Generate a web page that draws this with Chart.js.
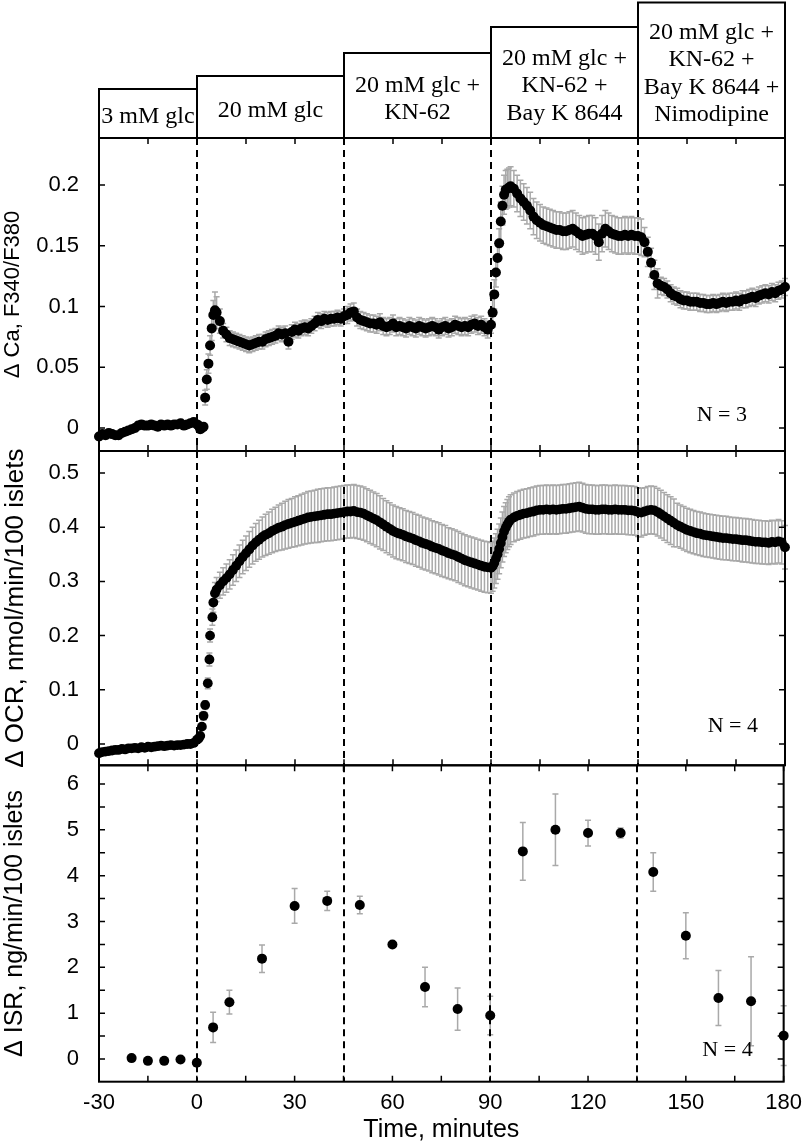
<!DOCTYPE html>
<html>
<head>
<meta charset="utf-8">
<script src="https://cdn.jsdelivr.net/npm/chart.js@4.4.1/dist/chart.umd.min.js"></script>
<style>
  body { margin: 0; background: #fff; }
  #wrap { position: relative; width: 802px; height: 1143px; }
  canvas { position: absolute; left: 0; }
</style>
</head>
<body>
<div id="wrap">
  <canvas id="ca" width="802" height="490" style="top:0px"></canvas>
  <canvas id="ocr" width="802" height="370" style="top:420px"></canvas>
  <canvas id="isr" width="802" height="408" style="top:735px"></canvas>
</div>
<script>
// condicoes experimentais (faixas do topo)
const stageStart = [-30, 0, 45, 90, 135];
const stageEnd = [0, 45, 90, 135, 180];
const stageLabels = [
  ['3 mM glc'],
  ['20 mM glc'],
  ['20 mM glc +', 'KN-62'],
  ['20 mM glc +', 'KN-62 +', 'Bay K 8644'],
  ['20 mM glc +', 'KN-62 +', 'Bay K 8644 +', 'Nimodipine']
];

// eixos
const xTicks = [-30, -15, 0, 15, 30, 45, 60, 75, 90, 105, 120, 135, 150, 165, 180];
const xLabels = ['-30', '', '0', '', '30', '', '60', '', '90', '', '120', '', '150', '', '180'];
const caTicks = [0, 0.05, 0.1, 0.15, 0.2];
const caLabels = ['0', '0.05', '0.1', '0.15', '0.2'];
const ocrTicks = [0, 0.1, 0.2, 0.3, 0.4, 0.5];
const ocrLabels = ['0', '0.1', '0.2', '0.3', '0.4', '0.5'];
const isrTicks = [0, 0.5, 1, 1.5, 2, 2.5, 3, 3.5, 4, 4.5, 5, 5.5, 6];
const isrLabels = ['0', '', '1', '', '2', '', '3', '', '4', '', '5', '', '6'];

// Ca (F340/F380)
const caTime = [
  -30,-29,-28,-27,-26,-25,-24,-23,-22,-21,-20,-19,-18,-17,-16,-15,-14,-13,-12,-11,
  -10,-9,-8,-7,-6,-5,-4,-3,-2,-1,0,
  0.5,1,1.5,2,2.5,3,3.5,4,4.5,5,5.5,6,
  7,8,9,10,11,12,13,14,15,16,17,18,19,20,21,22,23,24,25,26,27,28,29,30,
  31,32,33,34,35,36,37,38,39,40,41,42,43,44,45,46,47,48,49,50,51,52,53,54,
  55,56,57,58,59,60,61,62,63,64,65,66,67,68,69,70,71,72,73,74,75,76,77,78,
  79,80,81,82,83,84,85,86,87,88,89,90,
  90.5,91,91.5,92,92.5,93,93.5,94,94.5,95,95.5,96,
  97,98,99,100,101,102,103,104,105,106,107,108,109,110,111,112,113,114,115,116,
  117,118,119,120,121,122,123,124,125,126,127,128,129,130,131,132,133,134,135,136,
  137,138,139,140,141,142,143,144,145,146,147,148,149,150,151,152,153,154,155,156,
  157,158,159,160,161,162,163,164,165,166,167,168,169,170,171,172,173,174,175,176,
  177,178,179,180
];
const caMean = [
  -0.007,-0.005,-0.006,-0.004,-0.005,-0.006,-0.006,-0.004,-0.003,-0.002,
  -0.001,0.000,0.002,0.003,0.002,0.002,0.003,0.002,0.001,0.003,
  0.002,0.003,0.002,0.003,0.003,0.004,0.002,0.003,0.004,0.005,0.003,
  0.002,-0.001,0.000,0.001,0.025,0.040,0.053,0.068,0.082,0.093,0.097,0.095,
  0.088,0.080,0.077,0.074,0.073,0.072,0.071,0.070,0.069,0.068,
  0.069,0.070,0.071,0.071,0.073,0.074,0.075,0.076,0.078,0.077,
  0.078,0.071,0.079,0.081,0.080,0.082,0.083,0.082,0.084,0.086,
  0.089,0.088,0.090,0.089,0.090,0.090,0.091,0.090,0.092,0.093,
  0.095,0.096,0.091,0.089,0.088,0.087,0.086,0.086,0.085,0.087,
  0.084,0.083,0.084,0.086,0.083,0.084,0.083,0.082,0.084,0.083,
  0.082,0.084,0.083,0.082,0.083,0.084,0.083,0.081,0.083,0.084,
  0.082,0.083,0.085,0.084,0.083,0.084,0.083,0.085,0.086,0.084,
  0.085,0.083,0.081,0.085,
  0.095,0.110,0.128,0.140,0.152,0.170,0.183,0.192,0.196,0.197,0.198,0.199,
  0.197,0.193,0.189,0.186,0.183,0.179,0.174,0.171,0.169,0.167,
  0.166,0.165,0.164,0.163,0.163,0.162,0.162,0.163,0.164,0.162,
  0.160,0.158,0.159,0.160,0.160,0.158,0.153,0.160,0.164,0.162,
  0.160,0.159,0.158,0.158,0.159,0.158,0.159,0.158,0.158,0.157,
  0.153,0.145,0.136,0.126,0.119,0.117,0.116,0.114,0.111,0.109,
  0.108,0.106,0.105,0.105,0.104,0.104,0.104,0.103,0.103,0.102,
  0.102,0.103,0.102,0.103,0.104,0.103,0.104,0.104,0.105,0.104,
  0.106,0.106,0.107,0.108,0.107,0.109,0.110,0.111,0.110,0.112,
  0.111,0.113,0.114,0.116
];
const caErr = [
  0.003,0.003,0.003,0.003,0.003,0.003,0.003,0.003,0.003,0.003,
  0.003,0.003,0.003,0.003,0.003,0.003,0.003,0.003,0.003,0.003,
  0.003,0.003,0.003,0.003,0.003,0.003,0.003,0.003,0.003,0.003,0.003,
  0.003,0.003,0.003,0.003,0.006,0.008,0.008,0.008,0.010,0.012,0.015,0.013,
  0.010,0.006,0.006,0.006,0.006,0.006,0.006,0.006,0.006,0.006,
  0.006,0.006,0.006,0.006,0.006,0.006,0.006,0.006,0.006,0.006,
  0.006,0.006,0.006,0.006,0.006,0.006,0.006,0.006,0.006,0.006,
  0.006,0.006,0.006,0.006,0.006,0.006,0.006,0.006,0.006,0.007,
  0.007,0.007,0.007,0.007,0.007,0.007,0.007,0.007,0.007,0.007,
  0.007,0.007,0.007,0.007,0.007,0.007,0.007,0.007,0.007,0.007,
  0.007,0.007,0.007,0.007,0.007,0.007,0.007,0.007,0.007,0.007,
  0.007,0.007,0.007,0.007,0.007,0.007,0.007,0.007,0.007,0.007,
  0.007,0.007,0.007,0.007,
  0.012,0.012,0.012,0.012,0.012,0.016,0.016,0.016,0.016,0.016,0.016,0.016,
  0.015,0.015,0.015,0.015,0.015,0.015,0.015,0.015,0.015,0.015,
  0.015,0.015,0.015,0.015,0.015,0.015,0.015,0.015,0.015,0.015,
  0.015,0.015,0.015,0.015,0.015,0.015,0.015,0.015,0.015,0.015,
  0.015,0.015,0.015,0.015,0.015,0.015,0.015,0.015,0.015,0.015,
  0.012,0.012,0.012,0.012,0.012,0.007,0.007,0.007,0.007,0.007,
  0.007,0.007,0.007,0.007,0.007,0.007,0.007,0.007,0.007,0.007,
  0.007,0.007,0.007,0.007,0.007,0.007,0.007,0.007,0.007,0.007,
  0.007,0.007,0.007,0.007,0.007,0.007,0.007,0.007,0.007,0.007,
  0.007,0.007,0.007,0.007
];

// OCR (nmol/min/100 ilhotas)
const ocrTime = [
  -30,-29,-28,-27,-26,-25,-24,-23,-22,-21,-20,-19,-18,-17,-16,-15,-14,-13,-12,-11,
  -10,-9,-8,-7,-6,-5,-4,-3,-2,-1,0,
  0.5,1,1.5,2,2.5,3.3,3.8,4,4.7,5,5.5,6,
  7,8,9,10,11,12,13,14,15,16,17,18,19,20,21,22,23,24,25,26,27,28,29,30,
  31,32,33,34,35,36,37,38,39,40,41,42,43,44,45,46,47,48,49,50,51,52,53,54,
  55,56,57,58,59,60,61,62,63,64,65,66,67,68,69,70,71,72,73,74,75,76,77,78,
  79,80,81,82,83,84,85,86,87,88,89,90,
  90.5,91,91.5,92,92.5,93,93.5,94,94.5,95,95.5,96,
  97,98,99,100,101,102,103,104,105,106,107,108,109,110,111,112,113,114,115,116,
  117,118,119,120,121,122,123,124,125,126,127,128,129,130,131,132,133,134,135,136,
  137,138,139,140,141,142,143,144,145,146,147,148,149,150,151,152,153,154,155,156,
  157,158,159,160,161,162,163,164,165,166,167,168,169,170,171,172,173,174,175,176,
  177,178,179,180
];
const ocrMean = [
  -0.017,-0.015,-0.014,-0.013,-0.012,-0.011,-0.011,-0.009,-0.010,-0.008,
  -0.008,-0.007,-0.008,-0.006,-0.007,-0.005,-0.006,-0.005,-0.004,-0.003,
  -0.004,-0.003,-0.002,-0.003,-0.002,-0.002,-0.001,0.000,0.000,0.002,0.008,
  0.010,0.015,0.032,0.052,0.072,0.112,0.156,0.200,0.234,0.261,0.278,0.285,
  0.293,0.300,0.306,0.313,0.321,0.329,0.337,0.345,0.352,0.359,
  0.366,0.372,0.377,0.382,0.386,0.389,0.393,0.396,0.399,0.401,
  0.404,0.406,0.408,0.410,0.412,0.414,0.416,0.418,0.419,0.420,
  0.421,0.422,0.423,0.424,0.424,0.425,0.426,0.427,0.428,0.429,
  0.429,0.430,0.428,0.427,0.425,0.422,0.419,0.416,0.413,0.409,
  0.405,0.401,0.397,0.393,0.390,0.388,0.386,0.383,0.381,0.379,
  0.376,0.374,0.371,0.369,0.367,0.364,0.362,0.360,0.357,0.355,
  0.352,0.350,0.348,0.345,0.342,0.339,0.337,0.335,0.333,0.331,
  0.329,0.327,0.326,0.325,
  0.328,0.334,0.342,0.350,0.360,0.371,0.382,0.392,0.399,0.405,0.410,0.414,
  0.418,0.421,0.423,0.425,0.426,0.428,0.429,0.431,0.432,0.432,
  0.433,0.432,0.433,0.432,0.433,0.434,0.434,0.435,0.436,0.437,
  0.438,0.436,0.434,0.433,0.433,0.432,0.432,0.433,0.433,0.432,
  0.432,0.433,0.432,0.432,0.432,0.431,0.431,0.430,0.428,0.427,
  0.429,0.431,0.432,0.431,0.428,0.424,0.420,0.416,0.412,0.408,
  0.404,0.401,0.398,0.395,0.393,0.391,0.389,0.388,0.386,0.385,
  0.384,0.383,0.382,0.381,0.380,0.380,0.379,0.378,0.378,0.377,
  0.376,0.376,0.375,0.374,0.373,0.373,0.372,0.372,0.371,0.373,
  0.372,0.374,0.372,0.363
];
const ocrErr = [
  0.004,0.004,0.004,0.004,0.004,0.004,0.004,0.004,0.004,0.004,
  0.004,0.004,0.004,0.004,0.004,0.004,0.004,0.004,0.004,0.004,
  0.004,0.004,0.004,0.004,0.004,0.004,0.004,0.004,0.004,0.004,0.004,
  0.006,0.006,0.006,0.008,0.008,0.010,0.012,0.012,0.015,0.018,0.020,0.022,
  0.024,0.025,0.026,0.027,0.028,0.029,0.030,0.031,0.032,0.033,
  0.034,0.035,0.036,0.037,0.038,0.039,0.040,0.041,0.042,0.043,
  0.044,0.045,0.045,0.046,0.046,0.047,0.047,0.048,0.048,0.048,
  0.049,0.049,0.049,0.049,0.049,0.049,0.049,0.049,0.049,0.049,
  0.049,0.049,0.049,0.049,0.049,0.049,0.049,0.049,0.049,0.049,
  0.048,0.048,0.048,0.048,0.048,0.048,0.048,0.048,0.048,0.048,
  0.048,0.048,0.048,0.048,0.048,0.048,0.048,0.048,0.048,0.048,
  0.047,0.047,0.047,0.047,0.047,0.047,0.047,0.047,0.047,0.047,
  0.047,0.047,0.047,0.047,
  0.046,0.046,0.046,0.046,0.046,0.046,0.046,0.046,0.046,0.046,0.046,0.046,
  0.045,0.045,0.045,0.045,0.045,0.045,0.045,0.045,0.045,0.045,
  0.045,0.045,0.045,0.045,0.045,0.045,0.045,0.045,0.045,0.045,
  0.045,0.045,0.045,0.045,0.045,0.045,0.045,0.045,0.045,0.045,
  0.045,0.045,0.045,0.045,0.045,0.045,0.045,0.045,0.045,0.045,
  0.044,0.044,0.044,0.044,0.044,0.044,0.044,0.044,0.044,0.044,
  0.040,0.040,0.040,0.040,0.040,0.040,0.040,0.040,0.040,0.040,
  0.040,0.040,0.040,0.040,0.040,0.040,0.040,0.040,0.040,0.040,
  0.040,0.040,0.040,0.040,0.040,0.040,0.040,0.040,0.040,0.040,
  0.040,0.040,0.040,0.040
];

// ISR (ng/min/100 ilhotas)
const isrTime = [-20, -15, -10, -5, 0, 5, 10, 20, 30, 40, 50, 60, 70, 80, 90, 100, 110, 120, 130, 140, 150, 160, 170, 180];
const isrMean = [0.02, -0.04, -0.04, -0.01, -0.08, 0.69, 1.24, 2.19, 3.34, 3.45, 3.36, 2.50, 1.57, 1.09, 0.95, 4.53, 5.00, 4.93, 4.93, 4.08, 2.69, 1.33, 1.26, 0.51];
const isrErr = [0, 0, 0, 0, 0, 0.33, 0.26, 0.30, 0.38, 0.21, 0.19, 0.04, 0.43, 0.46, 0.42, 0.63, 0.78, 0.28, 0.11, 0.42, 0.50, 0.60, 0.97, 0.65];

const SANS = 'Liberation Sans';
const SERIF = 'Liberation Serif';

// desenha moldura, ticks, barras de erro, linhas tracejadas e caixas do topo
const painel = {
  id: 'painel',
  beforeDatasetsDraw(chart, args, opts) {
    const ctx = chart.ctx;
    const a = chart.chartArea;
    const x = chart.scales.x, y = chart.scales.y;
    ctx.save();
    // barras de erro
    ctx.strokeStyle = '#a9a9a9';
    ctx.lineWidth = 1.5;
    chart.data.datasets.forEach(function(ds) {
      ds.data.forEach(function(p, i) {
        const e = ds.errors[i];
        if (!e) return;
        const px = x.getPixelForValue(p.x);
        const y1 = y.getPixelForValue(p.y - e);
        const y2 = y.getPixelForValue(p.y + e);
        ctx.beginPath();
        ctx.moveTo(px, y1); ctx.lineTo(px, y2);
        ctx.moveTo(px - 3, y1); ctx.lineTo(px + 3, y1);
        ctx.moveTo(px - 3, y2); ctx.lineTo(px + 3, y2);
        ctx.stroke();
      });
    });
    // linhas tracejadas nas trocas de condicao
    ctx.strokeStyle = '#000';
    ctx.lineWidth = 2;
    ctx.setLineDash([7, 5]);
    stageStart.slice(1).forEach(function(t) {
      const px = Math.round(x.getPixelForValue(t));
      ctx.beginPath();
      ctx.moveTo(px, a.top);
      ctx.lineTo(px, a.bottom);
      ctx.stroke();
    });
    ctx.restore();
  },
  afterDraw(chart, args, opts) {
    const ctx = chart.ctx;
    const a = chart.chartArea;
    const x = chart.scales.x, y = chart.scales.y;
    ctx.save();
    ctx.strokeStyle = '#000';
    ctx.lineWidth = 2;
    ctx.strokeRect(a.left, a.top, a.right - a.left, a.bottom - a.top);
    // ticks para dentro
    ctx.lineWidth = 1.5;
    ctx.beginPath();
    xTicks.forEach(function(v) {
      const px = x.getPixelForValue(v);
      ctx.moveTo(px, a.top); ctx.lineTo(px, a.top + 6);
      ctx.moveTo(px, a.bottom); ctx.lineTo(px, a.bottom - 6);
    });
    opts.yTicks.forEach(function(v) {
      const py = y.getPixelForValue(v);
      ctx.moveTo(a.left, py); ctx.lineTo(a.left + 6, py);
      ctx.moveTo(a.right, py); ctx.lineTo(a.right - 6, py);
    });
    ctx.stroke();
    // N = ...
    ctx.fillStyle = '#000';
    ctx.font = '22px "' + SERIF + '"';
    ctx.textAlign = 'right';
    ctx.textBaseline = 'middle';
    ctx.fillText(opts.note, a.right - opts.noteDx, a.bottom - opts.noteDy);
    // caixas das condicoes
    if (opts.header) {
      ctx.lineWidth = 2;
      ctx.font = '24px "' + SERIF + '"';
      ctx.textAlign = 'center';
      stageLabels.forEach(function(lines, i) {
        const x0 = x.getPixelForValue(stageStart[i]);
        const x1 = x.getPixelForValue(stageEnd[i]);
        const top = opts.boxTop[i];
        ctx.strokeRect(x0, top, x1 - x0, a.top - top);
        const mid = (top + a.top) / 2 + 3.5;
        const first = mid - (lines.length - 1) * 27.5 / 2;
        lines.forEach(function(txt, k) {
          ctx.fillText(txt, (x0 + x1) / 2, first + k * 27.5);
        });
      });
    }
    ctx.restore();
  }
};

function eixoY(min, max, ticks, labels, titulo, tamTitulo) {
  return {
    type: 'linear', position: 'left', min: min, max: max,
    afterBuildTicks: function(s) { s.ticks = ticks.map(function(v) { return {value: v}; }); },
    afterFit: function(s) { s.width = 99; },
    ticks: {
      autoSkip: false, padding: 0, color: '#000',
      font: {family: SANS, size: 22},
      callback: function(v, i) { return labels[i]; }
    },
    // tick invisivel de 20px so para afastar os rotulos do eixo
    grid: {display: true, drawOnChartArea: false, drawTicks: true, tickLength: 20, tickColor: 'rgba(0,0,0,0)', color: 'rgba(0,0,0,0)'},
    border: {display: false},
    title: {display: true, text: titulo, color: '#000', font: {family: SANS, size: tamTitulo}, padding: 0}
  };
}

function pontos(t, m) {
  return t.map(function(v, i) { return {x: v, y: m[i]}; });
}

function criarPainel(id, dados, erros, raio, eixo, eixoX, pad, opts) {
  return new Chart(document.getElementById(id), {
    type: 'scatter',
    data: {
      datasets: [{
        data: dados, errors: erros,
        pointRadius: raio, pointBackgroundColor: '#000', pointBorderWidth: 0,
        pointHoverRadius: raio, clip: false
      }]
    },
    options: {
      responsive: false, animation: false, events: [],
      layout: {padding: pad},
      scales: {x: eixoX, y: eixo},
      plugins: {legend: {display: false}, tooltip: {enabled: false}, painel: opts}
    },
    plugins: [painel]
  });
}

const xOculto = {type: 'linear', min: -30, max: 180, display: false};

criarPainel('ca', pontos(caTime, caMean), caErr, 5,
  eixoY(-0.0189, 0.2387, caTicks, caLabels, '\u0394 Ca, F340/F380', 22),
  xOculto, {top: 138, bottom: 39, left: 0, right: 17},
  {yTicks: caTicks, note: 'N = 3', noteDx: 38, noteDy: 36, header: true, boxTop: [89, 76, 53, 27, 2.5]});

criarPainel('ocr', pontos(ocrTime, ocrMean), ocrErr, 4.9,
  eixoY(-0.0393, 0.5406, ocrTicks, ocrLabels, '\u0394 OCR, nmol/min/100 islets', 26),
  xOculto, {top: 31, bottom: 24.7, left: 0, right: 17},
  {yTicks: ocrTicks, note: 'N = 4', noteDx: 27, noteDy: 39, header: false});

criarPainel('isr', pontos(isrTime, isrMean), isrErr, 5,
  eixoY(-0.495, 6.408, isrTicks, isrLabels, '\u0394 ISR, ng/min/100 islets', 25),
  {
    type: 'linear', position: 'bottom', min: -30, max: 180,
    afterBuildTicks: function(s) { s.ticks = xTicks.map(function(v) { return {value: v}; }); },
    afterFit: function(s) { s.height = 61.3; },
    ticks: {
      autoSkip: false, maxRotation: 0, padding: 0, color: '#000',
      font: {family: SANS, size: 22},
      callback: function(v, i) { return xLabels[i]; }
    },
    grid: {display: false},
    border: {display: false},
    title: {display: true, text: 'Time, minutes', color: '#000', font: {family: SANS, size: 25, lineHeight: 1}, padding: 0}
  },
  {top: 30.3, bottom: 0, left: 0, right: 17},
  {yTicks: isrTicks, note: 'N = 4', noteDx: 31, noteDy: 31, header: false});
</script>
</body>
</html>
